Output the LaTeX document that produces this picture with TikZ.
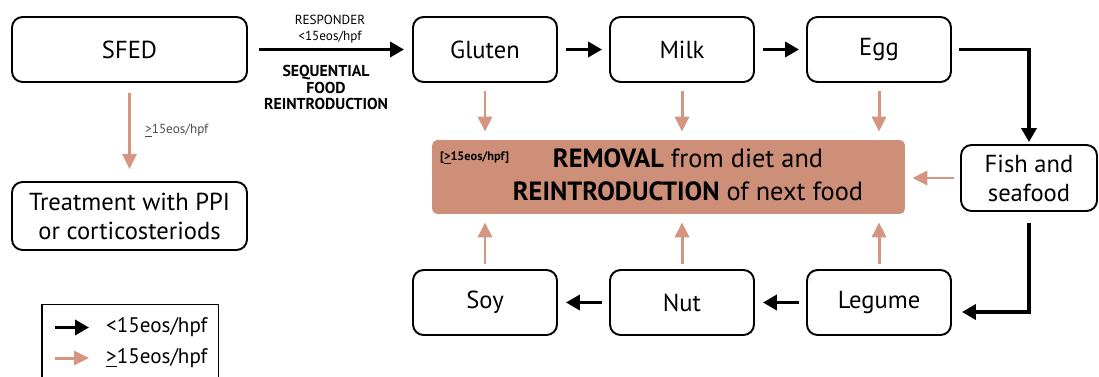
\documentclass[tikz,border=0pt]{standalone}
\usepackage{fontspec}
\setmainfont{PT Sans}
\usetikzlibrary{arrows.meta}
\definecolor{nonresp}{RGB}{212,150,128}
\definecolor{removalfill}{RGB}{205,143,120}
\newcommand{\geqsign}{\underline{>}}

\begin{document}
\begin{tikzpicture}[x=0.02cm,y=-0.02cm,
    box/.style={draw,rounded corners=6pt,line width=1.1pt,align=center,minimum height=1.3cm,font=\fontsize{14}{16.5}\selectfont},
    foodbox/.style={box,minimum width=2.88cm},
    widebox/.style={box,minimum width=4.7cm},
    resp/.style={line width=2.1pt,-{Triangle[length=0.28cm,width=0.3cm]}},
    nonr/.style={nonresp,line width=1.7pt,-{Triangle[length=0.3cm,width=0.28cm]}},
    small/.style={align=center,font=\fontsize{7.5}{9}\selectfont},
    smallbold/.style={align=center,font=\fontsize{9}{9.6}\selectfont\bfseries}]
    \useasboundingbox (0,0) rectangle (1099,376);

    % start and non-responders
    \node[widebox] (sfed) at (129.5,49.5) {SFED};
    \node[widebox,minimum height=1.36cm] (ppi) at (129.5,216) {Treatment with PPI\\or corticosteriods};
    \draw[nonr,shorten <=0.2cm,shorten >=0.24cm] (sfed) -- (ppi);
    \node[small,text=black!70,anchor=west] (sfedlbl) at (139,131) {\geqsign15eos/hpf};

    % foods, top row then back along the bottom
    \node[foodbox] (gluten) at (485,49.5) {Gluten};
    \node[foodbox] (milk) at (682,49.5) {Milk};
    \node[foodbox] (egg) at (879,49.5) {Egg};
    \node[box,minimum width=2.72cm,minimum height=1.32cm] (fish) at (1029,178) {Fish and\\seafood};
    \node[foodbox] (legume) at (879,302.5) {Legume};
    \node[foodbox] (nut) at (682,302.5) {Nut};
    \node[foodbox] (soy) at (485,302.5) {Soy};

    \node[rounded corners=3pt,fill=removalfill,minimum width=9.46cm,minimum height=1.48cm] (removal) at (668.5,177) {};
    \node[align=center,font=\fontsize{15}{18.7}\selectfont] (removaltxt) at (688,175)
        {\textbf{REMOVAL} from diet and\\\textbf{REINTRODUCTION} of next food};
    \node[anchor=north west,inner sep=0pt,font=\fontsize{7}{8}\selectfont\bfseries] (removaltag)
        at ([xshift=0.16cm,yshift=-0.24cm]removal.north west) {[\geqsign15eos/hpf]};

    \draw[resp,shorten <=0.22cm,shorten >=0.16cm] (sfed) -- (gluten);
    \node[small] (resplbl) at (330,29.5) {RESPONDER\\<15eos/hpf};
    \node[smallbold] (seqlbl) at (326,87.5) {SEQUENTIAL\\FOOD\\REINTRODUCTION};

    \draw[resp,shorten <=0.16cm,shorten >=0.14cm] (gluten) -- (milk);
    \draw[resp,shorten <=0.16cm,shorten >=0.14cm] (milk) -- (egg);
    \draw[resp,shorten <=0.14cm,shorten >=0.04cm] (egg.east) -| (fish.north);
    \draw[resp,shorten <=0.22cm,shorten >=0.2cm] (fish.south) |- ([yshift=-0.19cm]legume.east);
    \draw[resp,shorten <=0.14cm,shorten >=0.16cm] (legume) -- (nut);
    \draw[resp,shorten <=0.14cm,shorten >=0.16cm] (nut) -- (soy);

    \foreach \f in {gluten,milk,egg}
        \draw[nonr,shorten <=0.16cm,shorten >=0.16cm] (\f.south) -- (\f.south |- removal.north);
    \foreach \f in {soy,nut,legume}
        \draw[nonr,shorten <=0.1cm,shorten >=0.16cm] (\f.north) -- (\f.north |- removal.south);
    \draw[nonr,shorten <=0.12cm,shorten >=0.14cm] (fish.west) -- (fish.west -| removal.east);

    % legend, runs off the bottom edge
    \draw[line width=1pt] (42,380) -- (42,304.5) -- (218.5,304.5) -- (218.5,380);
    \node[anchor=west,font=\fontsize{12}{13}\selectfont] (keyresp) at (100,327.5) {<15eos/hpf};
    \node[anchor=west,font=\fontsize{12}{13}\selectfont] (keynonr) at (100,358) {\geqsign15eos/hpf};
    \coordinate (keyrespstart) at (55,327.5);
    \coordinate (keynonrstart) at (55,358);
    \draw[resp,shorten >=0.22cm] (keyrespstart) -- (keyresp.west);
    \draw[nonr,shorten >=0.22cm] (keynonrstart) -- (keynonr.west);
\end{tikzpicture}
\end{document}
